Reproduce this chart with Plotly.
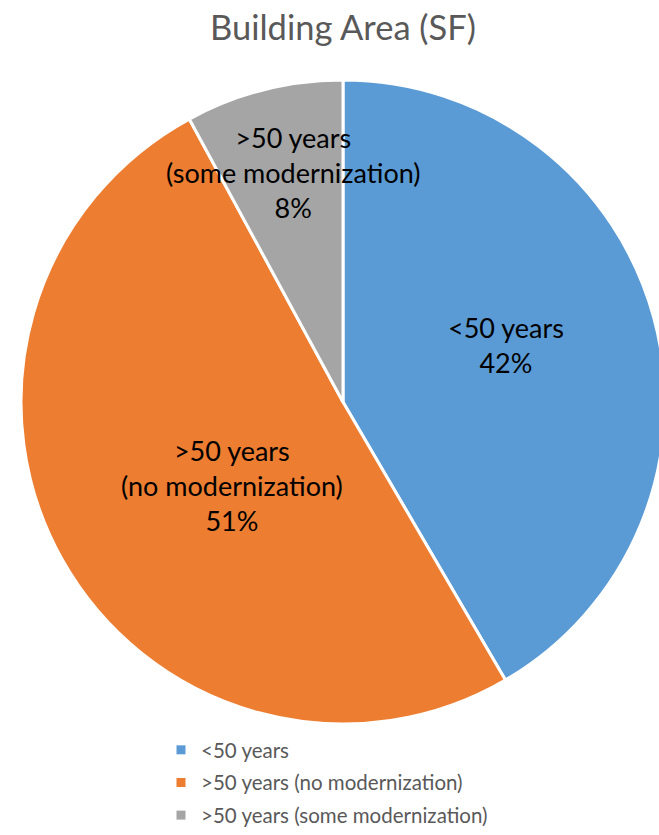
import math
import plotly.graph_objects as go

# ---- data ----
categories = ["<50 years", ">50 years (no modernization)", ">50 years (some modernization)"]
slice_text = ["<50 years", ">50 years<br>(no modernization)", ">50 years<br>(some modernization)"]
values = [42, 51, 8]
colors = ["#5B9BD5", "#ED7D31", "#A5A5A5"]
# label placement: (fraction of radius, angle offset in degrees from the slice mid-angle)
label_place = [(0.537, -4.2), (0.432, -7.4), (0.73, 2.0)]

W, H = 680, 835
cx, cy, R = 343, 402, 322  # pixel centre / radius of pie
FONT = "Lato, Carlito, sans-serif"

fig = go.Figure(go.Pie(
    labels=categories,
    values=values,
    sort=False,
    direction="clockwise",
    rotation=0,
    marker=dict(colors=colors, line=dict(color="white", width=3)),
    textinfo="none",
    hoverinfo="label+percent",
    showlegend=False,
    domain=dict(x=[(cx - R) / W, (cx + R) / W], y=[1 - (cy + R) / H, 1 - (cy - R) / H]),
))

# legend entries (one per category, grouped so the rows can be spaced)
for cat, col in zip(categories, colors):
    fig.add_trace(go.Scatter(
        x=[None], y=[None], mode="markers", name=cat, legendgroup=cat,
        marker=dict(symbol="square", size=9, color=col),
        showlegend=True, hoverinfo="skip",
    ))

# slice labels placed along each slice's mid-angle
total = sum(values)
cum = 0.0
annotations = []
for txt, v, (f, off) in zip(slice_text, values, label_place):
    mid = (cum + v / 2) / total * 2 * math.pi + math.radians(off)
    cum += v
    px = cx + f * R * math.sin(mid)
    py = cy - f * R * math.cos(mid)
    annotations.append(dict(
        x=px / W, y=1 - py / H, xref="paper", yref="paper",
        text=f"{txt}<br>{v}%", showarrow=False,
        font=dict(family=FONT, size=27, color="black"),
        align="center", xanchor="center", yanchor="middle",
    ))

fig.update_layout(
    width=W, height=H,
    margin=dict(l=0, r=0, t=0, b=0, autoexpand=False),
    paper_bgcolor="white",
    plot_bgcolor="rgba(0,0,0,0)",
    xaxis=dict(visible=False),
    yaxis=dict(visible=False),
    title=dict(text="Building Area (SF)", x=343 / W, xanchor="center", y=1 - 28 / H, yanchor="middle",
               font=dict(family=FONT, size=34.5, color="#595959")),
    annotations=annotations,
    showlegend=True,
    legend=dict(x=161 / W, xanchor="left", y=0, yanchor="bottom",
                font=dict(family=FONT, size=20.5, color="#595959"),
                tracegroupgap=3, bgcolor="rgba(0,0,0,0)"),
)

fig.write_html("out.html", post_script="document.body.style.margin='0';document.body.style.overflow='hidden';document.documentElement.style.overflow='hidden';")
